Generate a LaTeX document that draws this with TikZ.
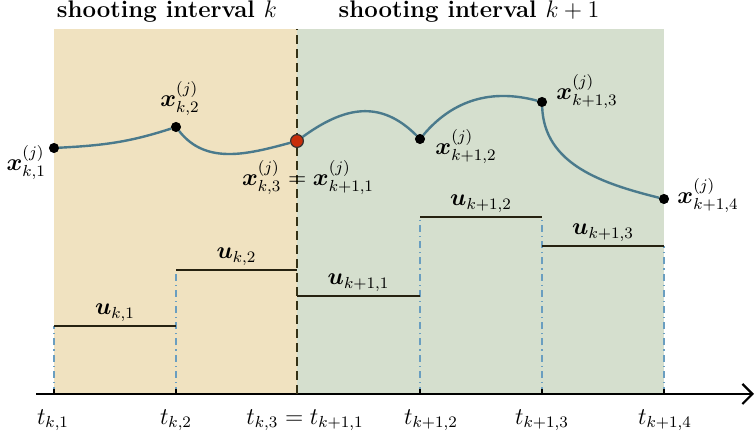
\documentclass[tikz,border=0pt]{standalone}
\usepackage{amsmath,amssymb,bm}
\usepackage{xcolor}
\usetikzlibrary{arrows.meta,calc}
\definecolor{bandsand}  {RGB}{240,226,192}
\definecolor{bandsage}  {RGB}{213,223,206}
\definecolor{trajcol}   {RGB}{ 74,122,140}
\definecolor{gridcol}   {RGB}{106,158,192}
\definecolor{stepcol}   {RGB}{ 38, 34, 16}
\definecolor{bordercol} {RGB}{ 52, 48, 20}
\definecolor{matchred}  {RGB}{200, 45, 10}
\tikzset{
  %% time axis with open arrow head
  timeaxis/.style={
    draw=black, line width=1.1pt,
    -{Straight Barb[length=5pt,width=10pt,line width=1.1pt]}
  },
  tickmark/.style={draw=black, line width=1.1pt},
  %% dash-dotted guides up to the control levels
  guide/.style={
    draw=gridcol, line width=0.7pt,
    dash pattern=on 3.5pt off 2pt on 0.6pt off 2pt
  },
  border/.style={
    draw=bordercol, line width=1.4pt,
    dash pattern=on 4.5pt off 2.5pt
  },
  ctrl/.style={draw=stepcol, line width=1.2pt},
  traj/.style={draw=trajcol, line width=1.2pt},
  node point/.style={
    circle, fill=black, draw=black,
    inner sep=0pt, minimum size=4.6pt
  },
  match point/.style={
    circle, fill=matchred, draw=black!80,
    line width=0.6pt, inner sep=0pt, minimum size=6.4pt
  },
  paneltitle/.style={font=\large\bfseries},
}

\begin{document}
\begin{tikzpicture}[x=0.5pt, y=0.5pt, font=\large]

  %% ── Layout constants ──────────────────────────────────────────────────
  \def\AY{44}     % axis height
  \def\TOP{409}   % top of the shaded intervals

  \useasboundingbox (0,0) rectangle (756,438);

  %% ══════════════════════════════════════════════════════════════════════
  %%  SHOOTING INTERVALS
  %% ══════════════════════════════════════════════════════════════════════
  \path[fill=bandsand] (54,\AY)  rectangle (297,\TOP);
  \path[fill=bandsage] (297,\AY) rectangle (664,\TOP);

  \node[paneltitle] (titlek)  at (167,426) {shooting interval $k$};
  \node[paneltitle] (titlek1) at (469,426) {shooting interval $k+1$};

  %% ── Time grid ─────────────────────────────────────────────────────────
  \foreach \n/\tx/\uy in {t1/54/112, t2/176/168, t4/420/221,
                          t5/542/221, t6/664/192}{
    \coordinate (\n) at (\tx,\AY);
    \draw[guide] (\n) -- (\tx,\uy);
  }
  \coordinate (t3) at (297,\AY);
  \coordinate (t3top) at (297,\TOP);

  %% Axis
  \coordinate (axstart) at (36,\AY);
  \coordinate (axend)   at (754,\AY);
  \draw[timeaxis] (axstart) -- (axend);
  \foreach \n in {t1,t2,t3,t4,t5,t6}{
    \draw[tickmark] (\n) -- ++(0,5);
  }
  \draw[border] (t3) -- (t3top);

  %% Time labels
  \node (lt1) at (53,18)  {$t_{k,1}$};
  \node (lt2) at (176,18) {$t_{k,2}$};
  \node (lt3) at (305,18) {$t_{k,3} = t_{k+1,1}$};
  \node (lt4) at (431,18) {$t_{k+1,2}$};
  \node (lt5) at (542,18) {$t_{k+1,3}$};
  \node (lt6) at (665,18) {$t_{k+1,4}$};

  %% ══════════════════════════════════════════════════════════════════════
  %%  PIECEWISE CONSTANT CONTROLS
  %% ══════════════════════════════════════════════════════════════════════
  \foreach \xa/\xb/\uy/\lab in {
     54/176/112/{k,1},   176/297/168/{k,2},
    297/420/142/{k+1,1}, 420/542/221/{k+1,2}, 542/664/192/{k+1,3}
  }{
    \draw[ctrl] (\xa,\uy) -- node[above=-1.5pt] {$\bm{u}_{\lab}$} (\xb,\uy);
  }

  %% ══════════════════════════════════════════════════════════════════════
  %%  STATE TRAJECTORY
  %% ══════════════════════════════════════════════════════════════════════
  \node[node point]  (x1) at (54,290)  {};
  \node[node point]  (x2) at (176,311) {};
  \node[match point] (x3) at (297,297) {};
  \node[node point]  (x4) at (420,299) {};
  \node[node point]  (x5) at (542,336) {};
  \node[node point]  (x6) at (664,239) {};

  \draw[traj] (x1) to[out=3,   in=198] (x2);
  \draw[traj] (x2) to[out=-52, in=195] (x3);
  \draw[traj] (x3) to[out=36,  in=135, looseness=1.15] (x4);
  \draw[traj] (x4) to[out=50,  in=165] (x5);
  \draw[traj] (x5) to[out=-88, in=166] (x6);

  %% State labels
  \node[anchor=east] (lx1) at (53,275) {$\bm{x}_{k,1}^{(j)}$};
  \node (lx2) at (180,339) {$\bm{x}_{k,2}^{(j)}$};
  \node (lx3) at (308,260) {$\bm{x}_{k,3}^{(j)} = \bm{x}_{k+1,1}^{(j)}$};
  \node (lx4) at (466,291) {$\bm{x}_{k+1,2}^{(j)}$};
  \node (lx5) at (587,346) {$\bm{x}_{k+1,3}^{(j)}$};
  \node (lx6) at (708,242) {$\bm{x}_{k+1,4}^{(j)}$};

\end{tikzpicture}
\end{document}
